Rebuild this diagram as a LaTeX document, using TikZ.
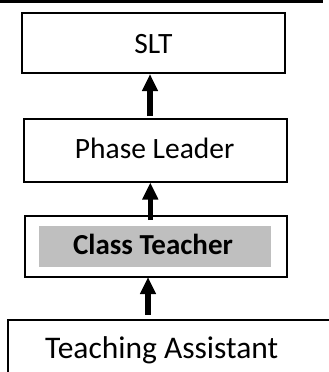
\documentclass[tikz,border=0pt]{standalone}
\usepackage{fontspec}
\setmainfont{Carlito}
\usetikzlibrary{arrows.meta}
\begin{document}
\begin{tikzpicture}[x=1pt,y=-1pt,
  boxline/.style={draw=black,line width=2pt},
  lbl/.style={anchor=base,inner sep=0pt,font=\fontsize{29.5}{34}\selectfont},
  uparrow/.style={line width=5.5pt,-{Triangle[width=15pt,length=17pt]}}]
\useasboundingbox (0,0) rectangle (329,372);
\clip (0,0) rectangle (329,372);
% top rule
\coordinate (rl) at (0,1.5);
\coordinate (rr) at (323,1.5);
\draw[line width=2.5pt] (rl) -- (rr);
% SLT
\draw[boxline] (22,13) rectangle (285,73);
\node[lbl] (slt) at (153.5,53) {SLT};
\coordinate (sltb) at (150,74);
% Phase Leader
\draw[boxline] (23.8,119) rectangle (286.5,181.5);
\node[lbl] (pl) at (154.7,158.3) {Phase Leader};
\coordinate (plt) at (150,116);
\coordinate (plb) at (150.3,182.5);
% Class Teacher
\draw[boxline] (24.5,216) rectangle (286.5,276.5);
\fill[black!25] (39,225.7) rectangle (270.7,266.7);
\node[lbl,font=\fontsize{29}{34}\selectfont\bfseries] (ct) at (153,254.5) {Class Teacher};
\coordinate (ctt) at (150.3,220);
\coordinate (ctb) at (148,277);
% Teaching Assistant
\draw[boxline] (340,320) -- (8,320) -- (8,380);
\node[lbl,font=\fontsize{31.5}{36}\selectfont] (ta) at (161.7,358) {Teaching Assistant};
\coordinate (tat) at (148,314.5);
% arrows
\draw[uparrow] (plt) -- (sltb);
\draw[uparrow] (ctt) -- (plb);
\draw[uparrow] (tat) -- (ctb);
\end{tikzpicture}
\end{document}
